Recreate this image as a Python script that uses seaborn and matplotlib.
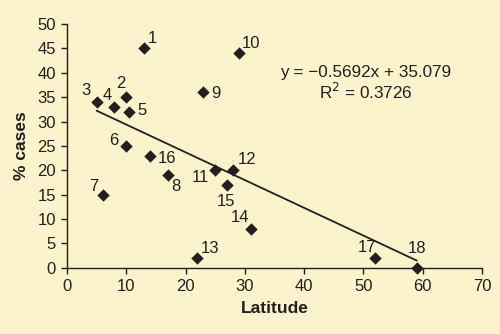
import matplotlib
matplotlib.use("Agg")
import matplotlib.pyplot as plt
import seaborn as sns
import numpy as np
import pandas as pd

# Data
ids = ["1", "2", "3", "4", "5", "6", "7", "8", "9", "10",
       "11", "12", "13", "14", "15", "16", "17", "18"]
latitude = [13, 10, 5, 8, 10.5, 10, 6, 17, 23, 29,
            25, 28, 22, 31, 27, 14, 52, 59]
cases = [45, 35, 34, 33, 32, 25, 15, 19, 36, 44,
         20, 20, 2, 8, 17, 23, 2, 0]
slope = -0.5692
intercept = 35.079
r2 = 0.3726
x_ticks = [0, 10, 20, 30, 40, 50, 60, 70]
y_ticks = [0, 5, 10, 15, 20, 25, 30, 35, 40, 45, 50]

df = pd.DataFrame({"id": ids, "Latitude": latitude, "cases": cases})

bg = "#FBF3CB"
ink = "#231F20"

sns.set_theme(style="ticks")
plt.rcParams["font.family"] = ["Liberation Sans", "DejaVu Sans"]

fig = plt.figure(figsize=(5, 3.34), dpi=100, facecolor=bg)
ax = fig.add_axes([0.134, 0.198, 0.830, 0.730])
ax.set_facecolor(bg)

sns.scatterplot(data=df, x="Latitude", y="cases", marker="D", s=40,
                color=ink, edgecolor=ink, linewidth=0, ax=ax, zorder=3,
                clip_on=False)

xl = np.array([min(latitude), max(latitude)])
sns.lineplot(x=xl, y=slope * xl + intercept, color=ink, linewidth=1.3, ax=ax)

# label offsets in points (dx, dy)
offsets = {
    "1": (6, 7), "2": (-4, 10), "3": (-8, 8), "4": (-5, 8), "5": (9, 1),
    "6": (-9, 4), "7": (-6, 6), "8": (6, -8), "9": (9, -1), "10": (9, 7),
    "11": (-11, -5), "12": (10, 8), "13": (9, 7), "14": (-8, 8), "15": (-1, -12),
    "16": (12, -2), "17": (-6, 8), "18": (0, 14),
}
for i, xv, yv in zip(ids, latitude, cases):
    dx, dy = offsets[i]
    ax.annotate(i, (xv, yv), xytext=(dx, dy), textcoords="offset points",
                ha="center", va="center", fontsize=12, color=ink)

ax.text(0.72, 0.755, "y = \u22120.5692x + 35.079\nR$^2$ = 0.3726",
        transform=ax.transAxes, ha="center", va="center", fontsize=12.3,
        color=ink, linespacing=1.1)

ax.set_xlim(0, 70)
ax.set_ylim(0, 50)
ax.set_xticks(x_ticks)
ax.set_yticks(y_ticks)
ax.tick_params(axis="both", labelsize=12, colors=ink, length=4, width=1,
               direction="out", pad=4)
sns.despine(ax=ax)
for sp in ["left", "bottom"]:
    ax.spines[sp].set_color(ink)
    ax.spines[sp].set_linewidth(1)

ax.set_xlabel("Latitude", fontsize=12.5, fontweight="bold", color=ink, labelpad=5)
ax.set_ylabel("% cases", fontsize=12.5, fontweight="bold", color=ink, labelpad=6)

fig.savefig("out.png", dpi=100, facecolor=bg)
